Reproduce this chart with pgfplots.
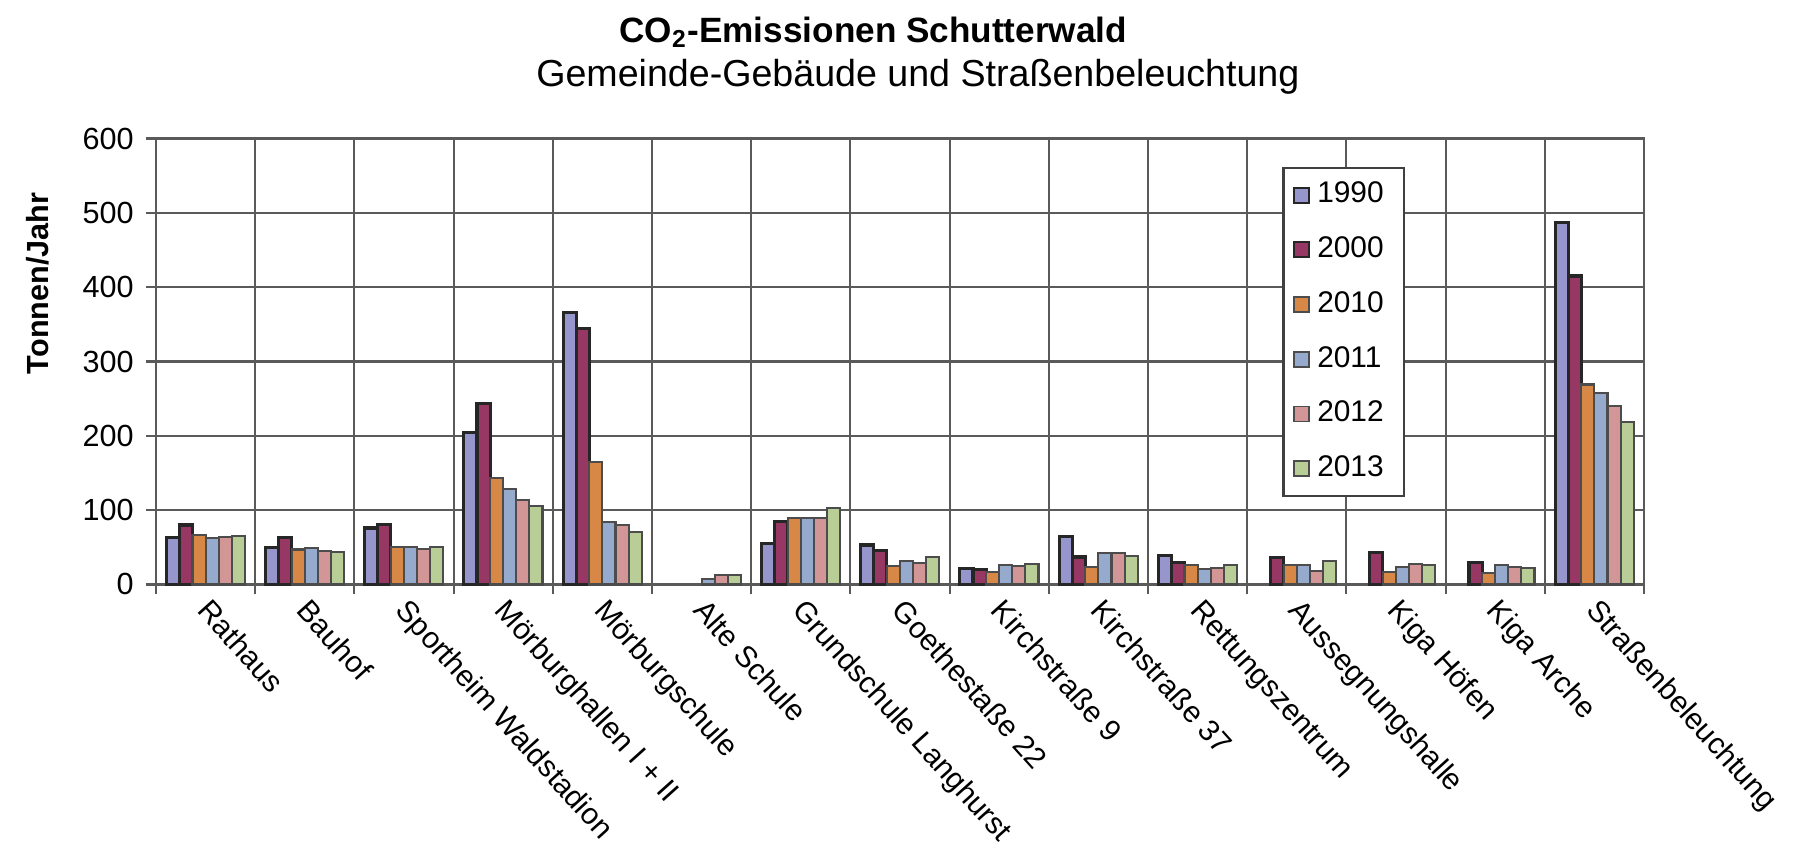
\documentclass[border=0pt]{standalone}
\usepackage{fontspec}
\setmainfont{Liberation Sans}
\usepackage{pgfplots}
\pgfplotsset{compat=1.18}

\definecolor{c1990}{RGB}{150,150,204}
\definecolor{c2000}{RGB}{150,55,100}
\definecolor{c2010}{RGB}{215,135,70}
\definecolor{c2011}{RGB}{150,170,205}
\definecolor{c2012}{RGB}{210,150,150}
\definecolor{c2013}{RGB}{185,205,150}
\definecolor{gridgray}{RGB}{90,90,90}

\begin{document}
\begin{tikzpicture}
\begin{axis}[
  width=14.88cm, height=4.46cm, scale only axis,
  ybar=0pt, bar width=0.132,
  xmin=-0.5, xmax=14.5, ymin=0, ymax=600,
  ytick={0,100,...,600},
  xtick={0,...,14},
  xticklabels={Rathaus,Bauhof,Sportheim Waldstadion,Mörburghallen I + II,Mörburgschule,Alte Schule,Grundschule Langhurst,Goethestaße 22,Kirchstraße 9,Kirchstraße 37,Rettungszentrum,Aussegnungshalle,Kiga Höfen,Kiga Arche,Straßenbeleuchtung},
  minor xtick={-0.5,0.5,...,14.5},
  xminorgrids, ymajorgrids,
  grid style={gridgray, line width=0.6pt},
  minor grid style={gridgray, line width=0.6pt},
  axis line style={gridgray, line width=0.6pt},
  tick align=outside, tick pos=left,
  major tick length=1mm, minor tick length=1mm,
  tick style={gridgray, line width=0.6pt},
  major x tick style={draw=none},
  /pgf/number format/assume math mode=true,
  yticklabel style={font=\fontsize{8.7}{10}\selectfont},
  xticklabel style={font=\fontsize{8.5}{10}\selectfont, xshift=0.7mm, yshift=0.3mm, rotate=-48, anchor=north west, inner sep=1pt},
  clip=false,
  legend style={at={(rel axis cs:0.757,0.936)}, anchor=north west, draw=black!75, line width=0.6pt,
    fill=white, font=\fontsize{8.5}{10}\selectfont, row sep=1.45mm, inner xsep=1mm, inner ysep=0.7mm},
  legend cell align=left,
  legend image code/.code={\draw[#1, line width=0.5pt] (0mm,-0.75mm) rectangle (1.5mm,0.75mm);},
]

\addplot[fill=c1990, draw=black!85, line width=0.9pt] coordinates {
  (0,63) (1,50) (2,76) (3,205) (4,366) (6,55) (7,53) (8,22) (9,64) (10,39) (14,487)};
\addplot[fill=c2000, draw=black!85, line width=0.9pt] coordinates {
  (0,80) (1,63) (2,81) (3,243) (4,344) (6,85) (7,46) (8,20) (9,37) (10,29) (11,36) (12,43) (13,30) (14,415)};
\addplot[fill=c2010, draw=black!70, line width=0.6pt] coordinates {
  (0,67) (1,47) (2,50) (3,143) (4,165) (6,89) (7,25) (8,17) (9,23) (10,26) (11,26) (12,17) (13,15) (14,269)};
\addplot[fill=c2011, draw=black!70, line width=0.6pt] coordinates {
  (0,63) (1,49) (2,50) (3,129) (4,84) (5,7) (6,89) (7,31) (8,26) (9,42) (10,21) (11,26) (12,24) (13,26) (14,258)};
\addplot[fill=c2012, draw=black!70, line width=0.6pt] coordinates {
  (0,64) (1,45) (2,48) (3,114) (4,80) (5,13) (6,89) (7,29) (8,25) (9,42) (10,22) (11,18) (12,27) (13,24) (14,240)};
\addplot[fill=c2013, draw=black!70, line width=0.6pt] coordinates {
  (0,65) (1,44) (2,50) (3,106) (4,71) (5,13) (6,103) (7,37) (8,28) (9,38) (10,26) (11,31) (12,26) (13,22) (14,219)};

\legend{\makebox[7mm][l]{1990},\makebox[7mm][l]{2000},\makebox[7mm][l]{2010},\makebox[7mm][l]{2011},\makebox[7mm][l]{2012},\makebox[7mm][l]{2013}}

\node[anchor=base, font=\bfseries\fontsize{10}{12}\selectfont, yshift=9.6mm] at (rel axis cs:0.482,1) {CO\textsubscript{2}-Emissionen Schutterwald};
\node[anchor=base, font=\fontsize{10.7}{13}\selectfont, yshift=5.2mm] at (rel axis cs:0.512,1) {Gemeinde-Gebäude und Straßenbeleuchtung};
\node[xshift=-11.8mm, rotate=90, anchor=center, font=\bfseries\fontsize{8.7}{10}\selectfont] at (rel axis cs:0,0.675) {Tonnen/Jahr};

\coordinate (ll) at (rel axis cs:0,0);
\coordinate (ur) at (rel axis cs:1,1);
\end{axis}
\pgfresetboundingbox
\path[use as bounding box] ([xshift=-15.6mm,yshift=-26.7mm]ll) rectangle ([xshift=15.6mm,yshift=13.85mm]ur);
\end{tikzpicture}
\end{document}
